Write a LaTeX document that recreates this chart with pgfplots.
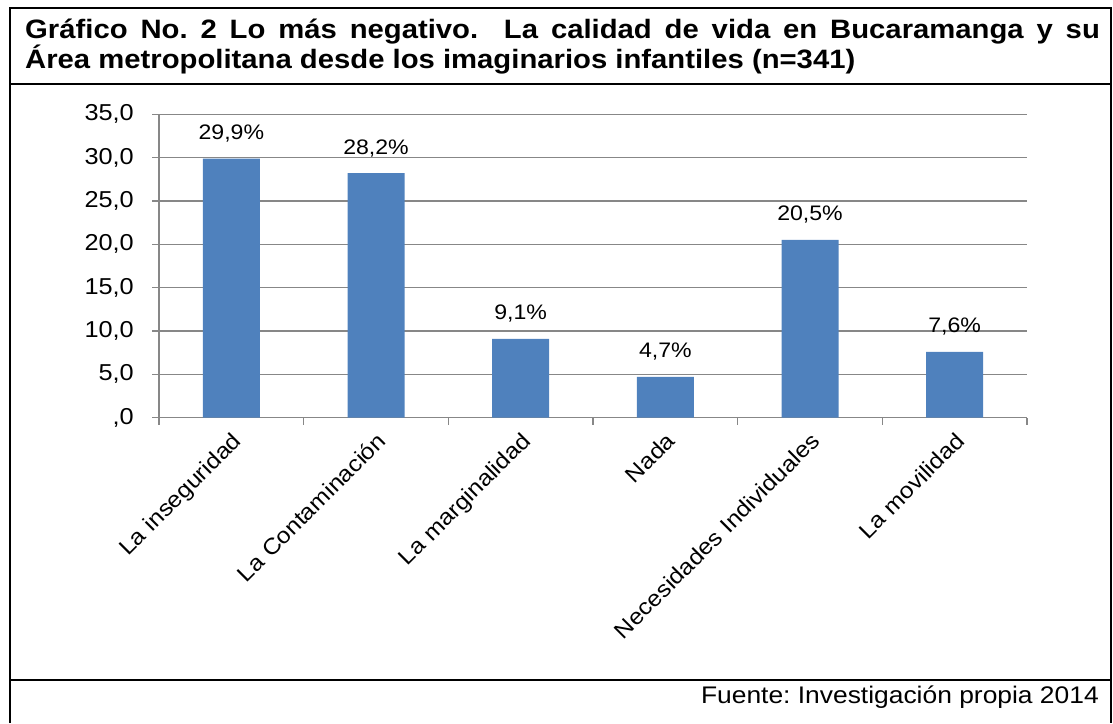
\documentclass[border=0pt]{standalone}
\usepackage{fontspec}
\setmainfont{Liberation Sans}
\usepackage{pgfplots}
\pgfplotsset{compat=1.18}
\definecolor{barblue}{HTML}{4F81BD}
\definecolor{gridgray}{HTML}{878787}
\frenchspacing
\begin{document}
\begin{tikzpicture}[x=1pt,y=1pt]
\path[use as bounding box] (0,0) rectangle (1113,723);
% frame
\draw[line width=2.2pt] (10,0) -- (10,715) -- (1111,715) -- (1111,0);
\draw[line width=2pt] (10,639) -- (1111,639);
\draw[line width=2pt] (10,43) -- (1111,43);
\node[anchor=base west, inner sep=0, xscale=1.1, font=\fontsize{26.6}{30}\bfseries\selectfont] at (25,684) {\makebox[977pt][s]{Gráfico No. 2 Lo más negativo.\ \ La calidad de vida en Bucaramanga y su}};
\node[anchor=base west, inner sep=0, xscale=1.1, font=\fontsize{26.6}{30}\bfseries\selectfont] at (25,654) {Área metropolitana desde los imaginarios infantiles (n=341)};
\node[anchor=base east, inner sep=0, xscale=1.1, font=\fontsize{24}{28}\selectfont] at (1099,20) {Fuente: Investigación propia 2014};

\begin{axis}[at={(159pt,305.3pt)}, anchor=south west, scale only axis, width=868pt, height=303.4pt,
 xmin=-0.5, xmax=5.5, ymin=0, ymax=35,
 axis x line*=bottom, axis y line*=left,
 axis line style={gridgray, line width=1.5pt},
 ytick={0,5,...,35}, yticklabels={{,0},{5,0},{10,0},{15,0},{20,0},{25,0},{30,0},{35,0}},
 ymajorgrids, grid style={gridgray, line width=1.5pt},
 xtick={-0.5,0.5,...,5.5}, xticklabels={},
 extra x ticks={0,1,2,3,4,5},
 extra x tick labels={La inseguridad, La Contaminación, La marginalidad, Nada, Necesidades Individuales, La movilidad},
 extra x tick style={major tick length=0pt, tick label style={xshift=0pt, yshift=-8pt, rotate=45, xscale=1.1, anchor=north east, font=\fontsize{22.4}{22.4}\selectfont}},
 tick align=outside, major tick length=7pt,
 tick style={gridgray, line width=1.5pt},
 yticklabel style={font=\fontsize{23}{23}\selectfont, xscale=1.1, xshift=-13pt},
 ybar, bar width=57pt,
 nodes near coords={\pgfmathprintnumber[fixed,fixed zerofill,precision=1,use comma,assume math mode=true]{\pgfplotspointmeta}\%},
 every node near coord/.append style={font=\fontsize{21}{21}\selectfont, xscale=1.1, yshift=13pt},
 clip=false,
]
\addplot[fill=barblue, draw=none] coordinates {(0,29.9) (1,28.2) (2,9.1) (3,4.7) (4,20.5) (5,7.6)};
\end{axis}
\end{tikzpicture}
\end{document}
